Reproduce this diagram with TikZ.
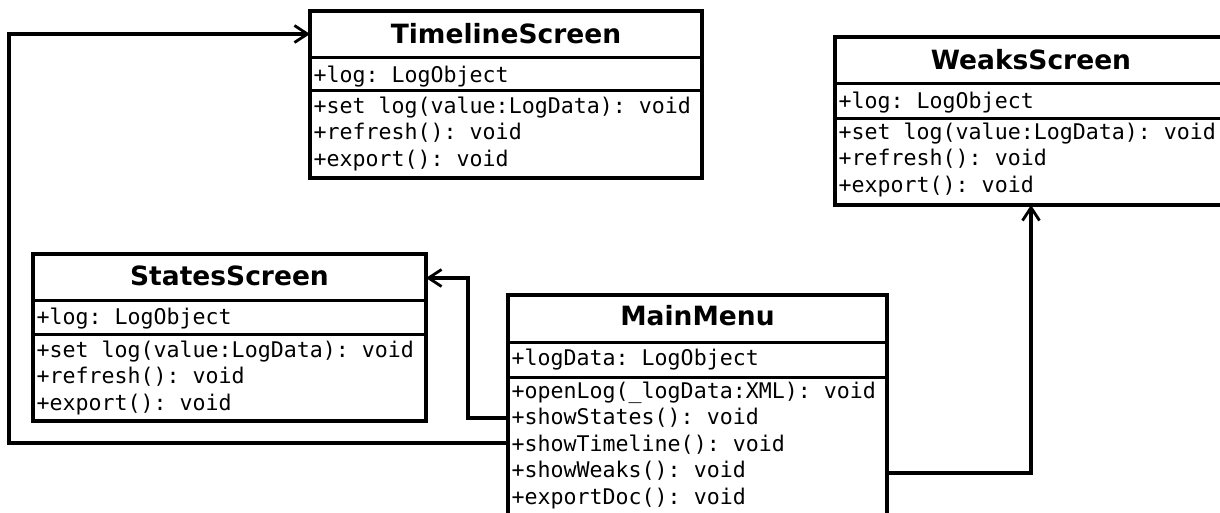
\documentclass[tikz,border=0pt]{standalone}
\usepackage{fontspec}
\setmonofont{DejaVu Sans Mono}
\newfontfamily\classtitlefont{DejaVu Sans}
\usetikzlibrary{arrows.meta}

\tikzset{
  classbox/.style={draw, line width=3.2pt, rectangle, inner sep=0pt, outer sep=0pt, anchor=north west, fill=white},
  sepline/.style={line width=3pt},
  classname/.style={font=\classtitlefont\bfseries\fontsize{26.5}{30}\selectfont, anchor=base, inner sep=0pt},
  member/.style={font=\ttfamily\fontsize{21.6}{26}\selectfont, anchor=base west, inner sep=0pt},
  assoc/.style={line width=3.2pt, -{Straight Barb[length=13pt,width=17pt,line width=2.8pt]}},
}

\begin{document}
\begin{tikzpicture}[x=1pt,y=-1pt]
\useasboundingbox[fill=white] (0,0) rectangle (1220,512);

% ---- TimelineScreen ----
\node[classbox, minimum width=392pt, minimum height=167pt] (tl) at (310,11) {};
\draw[sepline] ([yshift=-46pt]tl.north west) -- ([yshift=-46pt]tl.north east);
\draw[sepline] ([yshift=-79pt]tl.north west) -- ([yshift=-79pt]tl.north east);
\node[classname] (tl-name) at ([yshift=-32pt]tl.north) {TimelineScreen};
\node[member] (tl-a1) at ([xshift=3.5pt,yshift=-71pt]tl.north west) {+log: LogObject};
\node[member] (tl-m1) at ([xshift=3.5pt,yshift=-102pt]tl.north west) {+set log(value:LogData): void};
\node[member] (tl-m2) at ([xshift=3.5pt,yshift=-128.5pt]tl.north west) {+refresh(): void};
\node[member] (tl-m3) at ([xshift=3.5pt,yshift=-155pt]tl.north west) {+export(): void};

% ---- WeaksScreen ----
\node[classbox, minimum width=392pt, minimum height=168pt] (ws) at (835,37) {};
\draw[sepline] ([yshift=-46pt]ws.north west) -- ([yshift=-46pt]ws.north east);
\draw[sepline] ([yshift=-81pt]ws.north west) -- ([yshift=-81pt]ws.north east);
\node[classname] (ws-name) at ([yshift=-32pt]ws.north) {WeaksScreen};
\node[member] (ws-a1) at ([xshift=3.5pt,yshift=-71pt]ws.north west) {+log: LogObject};
\node[member] (ws-m1) at ([xshift=3.5pt,yshift=-102pt]ws.north west) {+set log(value:LogData): void};
\node[member] (ws-m2) at ([xshift=3.5pt,yshift=-128.5pt]ws.north west) {+refresh(): void};
\node[member] (ws-m3) at ([xshift=3.5pt,yshift=-155pt]ws.north west) {+export(): void};

% ---- StatesScreen ----
\node[classbox, minimum width=393pt, minimum height=167pt] (ss) at (33,254) {};
\draw[sepline] ([yshift=-46pt]ss.north west) -- ([yshift=-46pt]ss.north east);
\draw[sepline] ([yshift=-80pt]ss.north west) -- ([yshift=-80pt]ss.north east);
\node[classname] (ss-name) at ([yshift=-31pt]ss.north) {StatesScreen};
\node[member] (ss-a1) at ([xshift=3.5pt,yshift=-70pt]ss.north west) {+log: LogObject};
\node[member] (ss-m1) at ([xshift=3.5pt,yshift=-103pt]ss.north west) {+set log(value:LogData): void};
\node[member] (ss-m2) at ([xshift=3.5pt,yshift=-129.5pt]ss.north west) {+refresh(): void};
\node[member] (ss-m3) at ([xshift=3.5pt,yshift=-156pt]ss.north west) {+export(): void};

% ---- MainMenu ----
\node[classbox, minimum width=379pt, minimum height=232pt] (mm) at (508,295) {};
\draw[sepline] ([yshift=-47pt]mm.north west) -- ([yshift=-47pt]mm.north east);
\draw[sepline] ([yshift=-82pt]mm.north west) -- ([yshift=-82pt]mm.north east);
\node[classname] (mm-name) at ([yshift=-30pt]mm.north) {MainMenu};
\node[member] (mm-a1) at ([xshift=3.5pt,yshift=-70pt]mm.north west) {+logData: LogObject};
\node[member] (mm-m1) at ([xshift=3.5pt,yshift=-103pt]mm.north west) {+openLog(\_logData:XML): void};
\node[member] (mm-m2) at ([xshift=3.5pt,yshift=-129.5pt]mm.north west) {+showStates(): void};
\node[member] (mm-m3) at ([xshift=3.5pt,yshift=-156pt]mm.north west) {+showTimeline(): void};
\node[member] (mm-m4) at ([xshift=3.5pt,yshift=-182.5pt]mm.north west) {+showWeaks(): void};
\node[member] (mm-m5) at ([xshift=3.5pt,yshift=-209pt]mm.north west) {+exportDoc(): void};

% ---- connector end points and bends ----
\coordinate (ss-in) at ([yshift=-24pt]ss.north east);
\coordinate (tl-in) at ([yshift=-23pt]tl.north west);
\coordinate (ws-in) at ([xshift=196pt]ws.south west);
\coordinate (ss-bend) at (468,0);
\coordinate (tl-bend) at (9,0);
\coordinate (mm-out-s) at ([yshift=6.5pt]mm-m2.base west);
\coordinate (mm-out-t) at ([yshift=8pt]mm-m3.base west);
\coordinate (mm-out-w) at ([yshift=4.5pt]mm-m4.base west);

% ---- associations ----
\draw[assoc] (mm.west |- mm-out-s) -| (ss-bend |- ss-in) -- (ss-in);
\draw[assoc] (mm.west |- mm-out-t) -| (tl-bend |- tl-in) -- (tl-in);
\draw[assoc] (mm.east |- mm-out-w) -| (ws-in);
\end{tikzpicture}
\end{document}
